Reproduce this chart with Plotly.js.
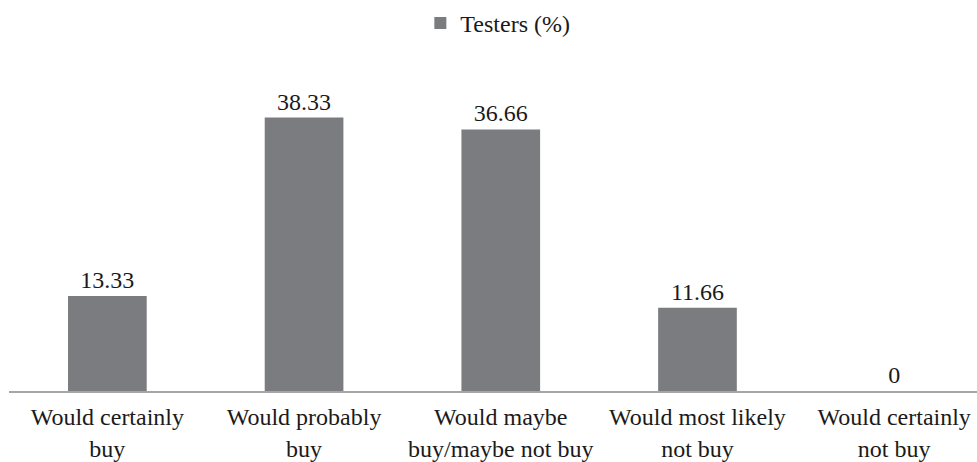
<!DOCTYPE html>
<html>
<head>
<meta charset="utf-8">
<script src="https://cdn.plot.ly/plotly-3.0.1.min.js"></script>
<style>html,body{margin:0;padding:0;background:#fff;}#chart{width:977px;height:462px;}</style>
</head>
<body>
<div id="chart"></div>
<script>
const categories = ["Would certainly<br>buy", "Would probably<br>buy", "Would maybe<br>buy/maybe not buy", "Would most likely<br>not buy", "Would certainly<br>not buy"];
const testers = [13.33, 38.33, 36.66, 11.66, 0];
const valueLabels = ["13.33", "38.33", "36.66", "11.66", "0"];
const seriesName = "Testers (%)";

const font = {family: "'Liberation Serif', 'DejaVu Serif', serif", size: 24, color: "#1a1a1a"};

Plotly.newPlot("chart", [{
  type: "bar",
  x: [0, 1, 2, 3, 4],
  y: testers,
  name: seriesName,
  text: valueLabels,
  textposition: "outside",
  textfont: font,
  cliponaxis: false,
  marker: {color: "#7b7c80"},
  width: 0.4,
  showlegend: true,
  hoverinfo: "none"
}], {
  width: 977, height: 462,
  margin: {l: 9, r: 0, t: 70, b: 71},
  paper_bgcolor: "#fff", plot_bgcolor: "#fff",
  font: font,
  showlegend: true,
  legend: {orientation: "h", x: 0.505, xanchor: "center", y: 1.215, yanchor: "top", font: font, itemwidth: 30},
  xaxis: {
    range: [-0.5, 4.421],
    tickmode: "array", tickvals: [0, 1, 2, 3, 4], ticktext: categories,
    showline: true, linecolor: "#a6a6a6", linewidth: 1.5,
    showgrid: false, zeroline: false, ticks: "",
    ticklabelstandoff: 4,
    tickfont: font, fixedrange: true
  },
  yaxis: {range: [0, 45], visible: false, fixedrange: true}
}, {displayModeBar: false, staticPlot: true});
</script>
</body>
</html>
